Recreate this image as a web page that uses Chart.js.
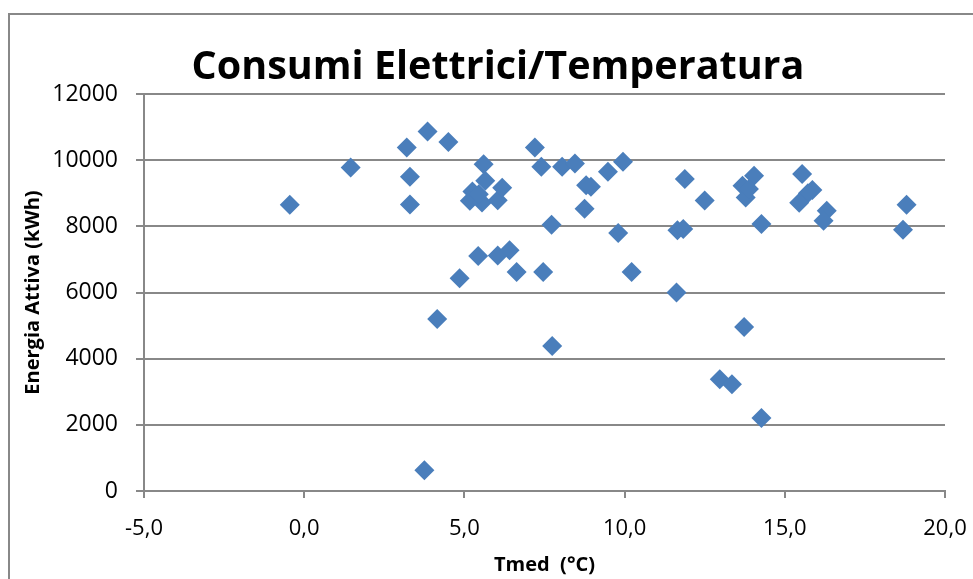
<!DOCTYPE html>
<html lang="it">
<head>
<meta charset="UTF-8">
<title>Consumi Elettrici/Temperatura</title>
<script src="https://cdn.jsdelivr.net/npm/chart.js"></script>
<style>
  html, body { margin: 0; padding: 0; background: #fff; overflow: hidden; }
  #wrap { position: relative; width: 973px; height: 579px; }
  #frame { position: absolute; left: 8px; top: 13px; width: 1000px; height: 600px; border-left: 2px solid #888; border-top: 2px solid #888; }
  canvas { position: absolute; left: 0; top: 0; }
</style>
</head>
<body>
<div id="wrap">
  <div id="frame"></div>
  <canvas id="scatter" width="973" height="579"></canvas>
</div>
<script>
// Tmed (°C) e Energia Attiva (kWh)
const tmed = [
  -0.45, 1.45, 3.2, 3.85, 4.5, 3.3, 3.3, 4.15, 3.75, 4.85,
  5.6, 5.65, 5.25, 5.17, 5.55, 6.04, 6.18, 5.45, 7.2, 7.4,
  8.05, 8.45, 8.8, 8.95, 8.75, 9.48, 9.95, 11.88, 7.72, 9.8,
  11.65, 11.83, 5.43, 6.04, 6.41, 6.63, 7.46, 10.22, 11.62, 12.5,
  14.27, 14.04, 13.68, 13.78, 13.88, 15.54, 15.86, 15.72, 15.45, 16.31,
  16.21, 18.8, 18.69, 13.73, 7.74, 12.97, 13.35, 14.27
];
const energia = [
  8650, 9780, 10380, 10870, 10550, 9500, 8660, 5200, 630, 6430,
  9880, 9380, 9050, 8770, 8720, 8790, 9170, 8970, 10380, 9800,
  9800, 9900, 9240, 9200, 8530, 9650, 9950, 9430, 8050, 7800,
  7880, 7920, 7100, 7120, 7280, 6620, 6620, 6620, 6000, 8780,
  8070, 9530, 9230, 8870, 9130, 9580, 9100, 9000, 8710, 8470,
  8170, 8650, 7900, 4960, 4380, 3380, 3230, 2210
];

const xTicks = { min: -5, max: 20, step: 5 };
const yTicks = { min: 0, max: 12000, step: 2000 };

const titolo = 'Consumi Elettrici/Temperatura';
const grey = '#888888';
const blue = '#4A7EBB';

const points = tmed.map((t, i) => ({ x: t, y: energia[i] }));

// title drawn a bit right of the canvas centre, like in the Excel original
const titlePlugin = {
  id: 'titoloExcel',
  afterDraw(chart) {
    const c = chart.ctx;
    c.save();
    c.font = 'bold 39.5px "Open Sans"';
    c.fillStyle = '#000';
    c.textAlign = 'center';
    c.textBaseline = 'alphabetic';
    c.fillText(titolo, 498, 79);
    c.restore();
  }
};

const ctx = document.getElementById('scatter').getContext('2d');

new Chart(ctx, {
  type: 'scatter',
  data: {
    datasets: [{
      label: 'Energia Attiva',
      data: points,
      pointStyle: 'rectRot',
      pointRadius: 10,
      pointHoverRadius: 10,
      pointBackgroundColor: blue,
      pointBorderColor: blue,
      pointBorderWidth: 0
    }]
  },
  options: {
    responsive: false,
    animation: false,
    events: [],
    layout: { padding: { left: 14, right: 28, top: 94, bottom: 0 } },
    plugins: {
      legend: { display: false },
      tooltip: { enabled: false },
      title: { display: false }
    },
    scales: {
      x: {
        type: 'linear',
        min: xTicks.min,
        max: xTicks.max,
        afterFit: (scale) => {
          scale.height = 88;
          scale.paddingLeft = 0;
          scale.paddingRight = 0;
        },
        ticks: {
          stepSize: xTicks.step,
          color: '#000',
          padding: 18,
          font: { family: 'Open Sans', size: 22 },
          callback: (v) => v.toFixed(1).replace('.', ',')
        },
        grid: { drawOnChartArea: false, drawTicks: true, tickLength: 7, color: grey, lineWidth: 2 },
        border: { display: true, color: grey, width: 2 },
        title: {
          display: true,
          text: 'Tmed  (°C)',
          color: '#000',
          font: { family: 'Open Sans', size: 20, weight: 'bold', lineHeight: 1.2 },
          padding: { top: 0, bottom: 2 }
        }
      },
      y: {
        type: 'linear',
        min: yTicks.min,
        max: yTicks.max,
        afterFit: (scale) => {
          scale.width = 130;
          scale.paddingTop = 0;
          scale.paddingBottom = 0;
        },
        ticks: {
          stepSize: yTicks.step,
          color: '#000',
          padding: 18,
          font: { family: 'Open Sans', size: 23 },
          callback: (v) => String(v)
        },
        grid: { drawOnChartArea: true, drawTicks: true, tickLength: 8, color: grey, lineWidth: 2 },
        border: { display: true, color: grey, width: 2 },
        title: {
          display: true,
          text: 'Energia Attiva (kWh)',
          color: '#000',
          font: { family: 'Open Sans', size: 20, weight: 'bold', lineHeight: 1.2 },
          padding: { top: 7, bottom: 0 }
        }
      }
    }
  },
  plugins: [titlePlugin]
});
</script>
</body>
</html>
